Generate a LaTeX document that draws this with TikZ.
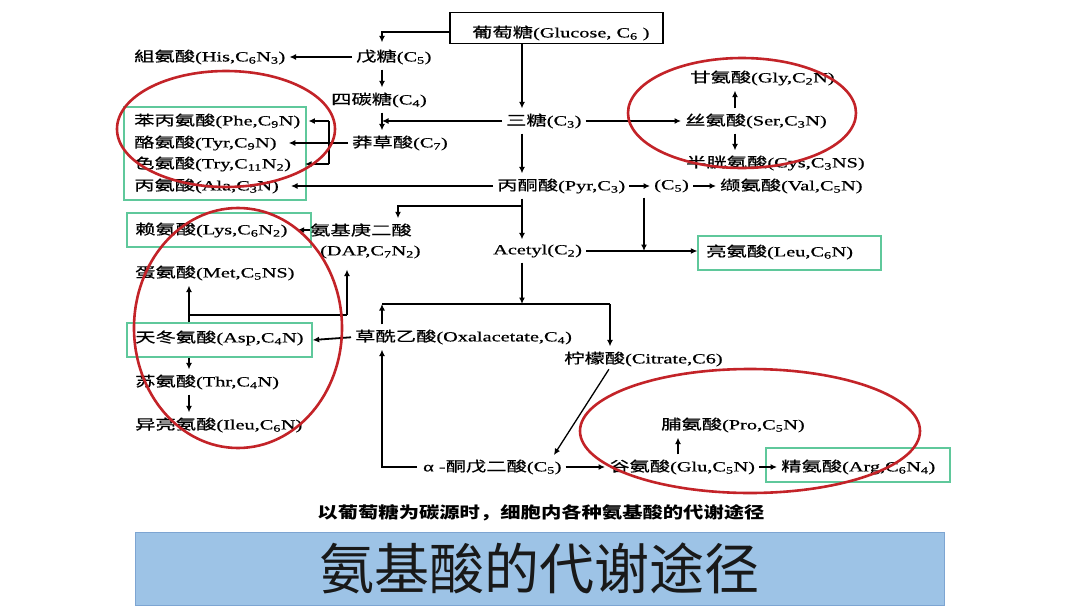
\documentclass[tikz,border=0pt]{standalone}
\usepackage{fontspec}
\setmainfont[FakeStretch=1.45,FakeBold=0.6]{Liberation Serif}
\newfontfamily\cjk[FakeStretch=1.45,FakeBold=0.6]{Noto Sans CJK SC}
\newfontfamily\cjktitle{Noto Sans CJK SC}
\newfontfamily\cjksub[FakeStretch=1.27]{Noto Sans CJK SC}
\usetikzlibrary{arrows.meta,calc}
\newcommand\cj[1]{{\cjk #1}}
\newcommand\subsc[1]{\textsubscript{#1}}
\definecolor{gboxc}{RGB}{95,200,155}
\definecolor{redc}{RGB}{195,35,40}
\definecolor{bannerc}{RGB}{157,195,230}
\definecolor{bannerl}{RGB}{125,165,210}
\begin{document}
\begin{tikzpicture}[x=1pt,y=-1pt,
  lbl/.style={anchor=west, inner xsep=0pt, inner ysep=1pt, font=\fontsize{14}{16}\selectfont},
  arr/.style={line width=1.8pt, -{Latex[length=6.5pt,width=6pt]}, shorten >=4pt, shorten <=4pt},
  tarr/.style={arr, line width=1.3pt},
  ln/.style={line width=1.3pt},
  gboxs/.style={draw=gboxc, line width=1.3pt, inner sep=0pt},
  redell/.style={draw=redc, line width=2.6pt}
]
\useasboundingbox (0,0) rectangle (1080,608);
\fill[white] (0,0) rectangle (1080,608);

% green boxes
\node[gboxs, minimum width=182pt, minimum height=93pt] (b1) at (215,153.5) {};
\node[gboxs, minimum width=184pt, minimum height=34pt] (blys) at (219,230) {};
\node[gboxs, minimum width=185pt, minimum height=34pt] (basp) at (219.5,340) {};
\node[gboxs, minimum width=183pt, minimum height=34pt] (bleu) at (789.5,253) {};
\node[gboxs, minimum width=184pt, minimum height=34pt] (barg) at (858,465) {};

% glucose box
\node[draw, line width=1.2pt, minimum width=213pt, minimum height=31pt, inner sep=0pt] (glc) at (556.5,28) {};
\node[lbl] (glct) at (472,33) {\cj{葡萄糖}(Glucose, C\subsc{6} )};

% labels
\node[lbl] (his) at (134,57) {\cj{組氨酸}(His,C\subsc{6}N\subsc{3})};
\node[lbl] (pent) at (356,57) {\cj{戊糖}(C\subsc{5})};
\node[lbl] (tetr) at (331,100) {\cj{四碳糖}(C\subsc{4})};
\node[lbl] (tri) at (506,121) {\cj{三糖}(C\subsc{3})};
\node[lbl] (phe) at (134,121) {\cj{苯丙氨酸}(Phe,C\subsc{9}N)};
\node[lbl] (tyr) at (134,143) {\cj{酪氨酸}(Tyr,C\subsc{9}N)};
\node[lbl] (shik) at (352,143) {\cj{莽草酸}(C\subsc{7})};
\node[lbl] (try) at (134,164) {\cj{色氨酸}(Try,C\subsc{11}N\subsc{2})};
\node[lbl] (ala) at (134,186) {\cj{丙氨酸}(Ala,C\subsc{3}N)};
\node[lbl] (pyr) at (497,186) {\cj{丙酮酸}(Pyr,C\subsc{3})};
\node[lbl] (c5) at (654,186) {(C\subsc{5})};
\node[lbl] (val) at (720,186) {\cj{缬氨酸}(Val,C\subsc{5}N)};
\node[lbl] (gly) at (690,78) {\cj{甘氨酸}(Gly,C\subsc{2}N)};
\node[lbl] (ser) at (685,121) {\cj{丝氨酸}(Ser,C\subsc{3}N)};
\node[lbl] (cys) at (686,163) {\cj{半胱氨酸}(Cys,C\subsc{3}NS)};
\node[lbl] (lys) at (135,230) {\cj{赖氨酸}(Lys,C\subsc{6}N\subsc{2})};
\node[lbl] (dap1) at (310,230) {\cj{氨基庚二酸}};
\node[lbl] (dap2) at (320,252) {(DAP,C\subsc{7}N\subsc{2})};
\node[lbl] (acetyl) at (493,251) {Acetyl(C\subsc{2})};
\node[lbl] (leu) at (706,252) {\cj{亮氨酸}(Leu,C\subsc{6}N)};
\node[lbl] (met) at (135,273) {\cj{蛋氨酸}(Met,C\subsc{5}NS)};
\node[lbl] (asp) at (135,338) {\cj{天冬氨酸}(Asp,C\subsc{4}N)};
\node[lbl] (oxa) at (355,337) {\cj{草酰乙酸}(Oxalacetate,C\subsc{4})};
\node[lbl] (cit) at (564,359) {\cj{柠檬酸}(Citrate,C6)};
\node[lbl] (thr) at (135,382) {\cj{苏氨酸}(Thr,C\subsc{4}N)};
\node[lbl] (ileu) at (135,425) {\cj{异亮氨酸}(Ileu,C\subsc{6}N)};
\node[lbl] (pro) at (661,425) {\cj{脯氨酸}(Pro,C\subsc{5}N)};
\node[lbl] (akg) at (423,467) {α -\cj{酮戊二酸}(C\subsc{5})};
\node[lbl] (glu) at (609,467) {\cj{谷氨酸}(Glu,C\subsc{5}N)};
\node[lbl] (arg) at (781,467) {\cj{精氨酸}(Arg,C\subsc{6}N\subsc{4})};

% columns and junctions
\coordinate (xa) at (382,0);
\coordinate (xm) at (522,0);
\coordinate (xs) at (735,0);
\coordinate (xb) at (329,0);
\coordinate (xl) at (189,0);
\coordinate (xc) at (644,0);
\coordinate (xd) at (398,0);
\coordinate (xp) at (678,0);
\coordinate (j1) at (522,206);
\coordinate (ja) at (382,304);
\coordinate (jb) at (610,304);
\coordinate (k1) at (189,315);
\coordinate (k2) at (347,315);

% connectors
\draw[tarr, shorten <=0pt, shorten >=6pt] ([yshift=-4pt]glc.west) -| (xa |- pent.north);
\draw[arr] (pent.west) -- (his.east);
\draw[arr] (xa |- pent.south) -- (xa |- tetr.north);
\draw[arr] (xa |- tetr.south) -- (xa |- shik.north);
\draw[arr, shorten >=0pt] (tri.west) -- (xa |- tri.west);
\draw[arr, shorten <=0pt] (xm |- glc.south) -- (xm |- tri.north);
\draw[arr] (xm |- tri.south) -- (xm |- pyr.north);
\draw[arr] (tri.east) -- (ser.west);
\draw[arr] (xs |- ser.north) -- (xs |- gly.south);
\draw[arr] (xs |- ser.south) -- (xs |- cys.north);
\draw[arr] (pyr.east) -- (c5.west);
\draw[arr] (c5.east) -- (val.west);
\draw[arr, shorten >=12pt] (pyr.west) -- (ala.east);
\draw[arr, shorten >=12pt] (shik.west) -- (tyr.east);
\draw[ln, line width=1.8pt] (xb |- phe) -- (xb |- try);
\draw[arr, shorten <=0pt, shorten >=8pt] (xb |- phe) -- (phe.east);
\draw[arr, shorten <=0pt, shorten >=14pt] (xb |- try) -- (try.east);
\draw[tarr, shorten <=0pt] (j1) -| (xd |- dap1.north);
\draw[arr] (xm |- pyr.south) -- (xm |- acetyl.north);
\draw[arr, shorten <=0pt, shorten >=10pt] (dap1.west) -- (lys.east);
\draw[arr, shorten >=0pt] (xc |- c5.south) -- (xc |- acetyl.east);
\draw[tarr, shorten >=0pt] (acetyl.east) -- (acetyl.east -| bleu.west);
\draw[arr, shorten >=0pt] (xm |- acetyl.south) -- (xm |- ja);
\draw[ln] (ja) -- (jb);
\draw[arr, shorten <=0pt] (jb) -- (jb |- cit.north);
\draw[arr, shorten >=0pt] (ja |- oxa.north) -- (ja);
\draw[arr, shorten >=0pt] (oxa.west) -- (basp.east);
\draw[arr, shorten <=0pt] (xl |- basp.north) -- (xl |- met.south);
\draw[ln] (k1) -- (k2);
\draw[arr, shorten <=0pt, shorten >=10pt] (k2) -- (k2 |- dap2.south);
\draw[arr, shorten <=0pt] (xl |- basp.south) -- (xl |- thr.north);
\draw[arr] (xl |- thr.south) -- (xl |- ileu.north);
\draw[tarr, shorten <=2pt] (jb |- cit.south) -- ([xshift=-10pt]akg.north east);
\draw[arr] (akg.east) -- (glu.west);
\draw[arr] (glu.east) -- (arg.west);
\draw[arr] (xp |- glu.north) -- (xp |- pro.south);
\draw[arr, shorten <=6pt] (akg.west) -| (ja |- oxa.south);

% captions
\node[font=\cjksub\bfseries\fontsize{16}{18}\selectfont] (subt) at (541,513) {以葡萄糖为碳源时，细胞内各种氨基酸的代谢途径};
\node[fill=bannerc, draw=bannerl, line width=0.6pt, minimum width=809pt, minimum height=73pt, inner sep=0pt, font=\cjktitle\fontsize{55}{60}\selectfont, text=black!90] (title) at (539.5,568.5) {氨基酸的代谢途径};

% red ellipses
\draw[redell] (226,129) ellipse [x radius=109, y radius=58];
\draw[redell] (742,113) ellipse [x radius=114, y radius=55];
\draw[redell] (238,328) ellipse [x radius=104, y radius=120];
\draw[redell] (750,431) ellipse [x radius=170, y radius=62];
\end{tikzpicture}
\end{document}
